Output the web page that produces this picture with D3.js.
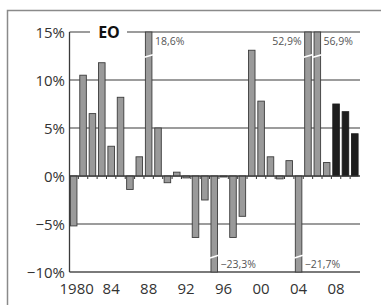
<!DOCTYPE html>
<html><head><meta charset="utf-8">
<script src="https://cdn.jsdelivr.net/npm/d3@7/dist/d3.min.js"></script>
<style>
html,body{margin:0;padding:0;background:#fff;}
svg{display:block;}
text{font-family:"Open Sans",Lato,sans-serif;}
</style></head>
<body>
<script>
const years = d3.range(1980, 2011);
const values = [-5.2, 10.5, 6.5, 11.8, 3.1, 8.2, -1.4, 2.0, 18.6, 5.0,
  -0.7, 0.4, -0.2, -6.4, -2.5, -23.3, -0.1, -6.4, -4.2, 13.1,
  7.8, 2.0, -0.3, 1.6, -21.7, 52.9, 56.9, 1.4, 7.5, 6.7, 4.4];
const forecastYears = [2008, 2009, 2010];
const yTicks = [-10, -5, 0, 5, 10, 15];
const xTickYears = [1980, 1984, 1988, 1992, 1996, 2000, 2004, 2008];
const title = "EO";

const W = 381, H = 305;
const svg = d3.select("body").append("svg").attr("width", W).attr("height", H);

// outer frame
svg.append("rect").attr("x", 7.5).attr("y", 10.5).attr("width", 400).attr("height", 400)
  .attr("fill", "none").attr("stroke", "#8a8a8a").attr("stroke-width", 1.5);

const x = d3.scaleBand().domain(years).range([69, 359.5]).paddingInner(0.3).paddingOuter(0.15);
const y = d3.scaleLinear().domain([-10, 15]).range([272, 32]);
const xL = 69.5, xR = 360;

// gridlines
const g = svg.append("g");
yTicks.forEach(t => {
  g.append("line").attr("x1", xL).attr("x2", xR).attr("y1", y(t)).attr("y2", y(t))
    .attr("stroke", t === -10 ? "#7a7a7a" : "#3a3a3a").attr("stroke-width", t === -10 ? 2 : 1.2);
});
// left axis
g.append("line").attr("x1", xL).attr("x2", xL).attr("y1", y(15)).attr("y2", y(-10))
  .attr("stroke", "#3a3a3a").attr("stroke-width", 1.3);

// y labels
svg.append("g").selectAll("text").data(yTicks).join("text")
  .attr("x", 65).attr("y", d => y(d) + 5.5).attr("text-anchor", "end")
  .attr("font-size", 15).attr("fill", "#333")
  .text(d => (d < 0 ? "\u2212" + Math.abs(d) : d) + "%");

// year ticks at band boundaries
const step = x.step();
svg.append("g").selectAll("line").data(years.slice(1)).join("line")
  .attr("x1", d => x(d) - step * x.paddingInner() / 2).attr("x2", d => x(d) - step * x.paddingInner() / 2)
  .attr("y1", y(0)).attr("y2", y(0) + 3).attr("stroke", "#333").attr("stroke-width", 1);

// bars
const data = years.map((yr, i) => ({year: yr, v: values[i]}));
const clampV = v => Math.max(-10, Math.min(15, v));
svg.append("g").selectAll("rect").data(data).join("rect")
  .attr("x", d => x(d.year)).attr("width", x.bandwidth())
  .attr("y", d => y(Math.max(0, clampV(d.v))))
  .attr("height", d => Math.max(1, Math.abs(y(clampV(d.v)) - y(0))))
  .attr("fill", d => forecastYears.includes(d.year) ? "#1e1e1e" : "#9a9a9a")
  .attr("stroke", d => forecastYears.includes(d.year) ? "#1e1e1e" : "#3c3c3c")
  .attr("stroke-width", 0.9);

// zero line on top
svg.append("line").attr("x1", xL).attr("x2", xR).attr("y1", y(0)).attr("y2", y(0))
  .attr("stroke", "#3a3a3a").attr("stroke-width", 1.2);

// breaks & labels for out-of-range bars
const broken = data.filter(d => d.v > 15 || d.v < -10);
broken.forEach(d => {
  const bx = x(d.year), bw = x.bandwidth();
  const by = d.v > 0 ? y(12.5) : y(-8.4);
  svg.append("line").attr("x1", bx - 1).attr("x2", bx + bw + 1)
    .attr("y1", by + 1.3).attr("y2", by - 1.3)
    .attr("stroke", "#fff").attr("stroke-width", 1.6);
});
const fmt = v => (v < 0 ? "\u2212" : "") + Math.abs(v).toFixed(1).replace(".", ",") + "%";
broken.forEach(d => {
  const leftSide = d.year === 2005;
  const ty = d.v > 0 ? y(15) + 13 : y(-10) - 4;
  svg.append("text")
    .attr("x", leftSide ? x(d.year) - 3 : x(d.year) + x.bandwidth() + 3)
    .attr("y", ty).attr("text-anchor", leftSide ? "end" : "start")
    .attr("font-size", 10.5).attr("fill", "#555").text(fmt(d.v));
});

// title on top gridline
svg.append("rect").attr("x", 90).attr("y", y(15) - 10).attr("width", 37).attr("height", 20).attr("fill", "#fff");
svg.append("text").attr("x", 109).attr("y", y(15) + 6).attr("text-anchor", "middle")
  .attr("font-size", 16).attr("font-weight", "bold").attr("fill", "#111").text(title);

// x labels
svg.append("g").selectAll("text").data(xTickYears).join("text")
  .attr("x", d => x(d) + x.bandwidth() / 2 + (d === 1980 ? 3 : 0))
  .attr("y", 294).attr("text-anchor", "middle")
  .attr("font-size", 15).attr("fill", "#333")
  .text(d => d === 1980 ? "1980" : String(d).slice(2));
</script>
</body></html>
